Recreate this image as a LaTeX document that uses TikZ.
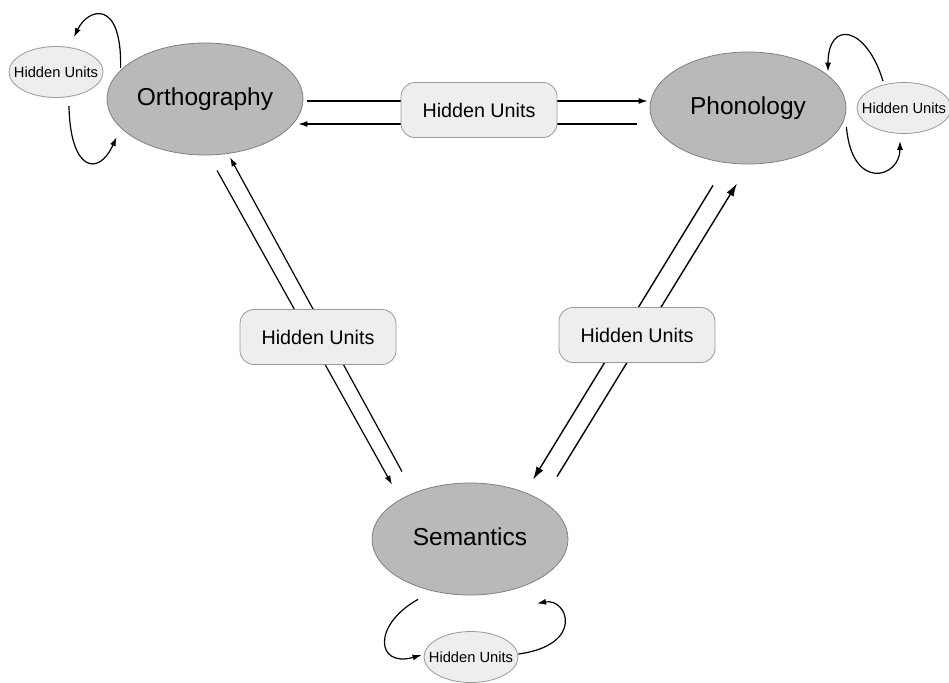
\documentclass[tikz,border=0pt]{standalone}
\usepackage{fontspec}
\setmainfont{Liberation Sans}
\usetikzlibrary{shapes.geometric,arrows.meta,backgrounds}
\tikzset{
  area/.style={ellipse,draw=gray,line width=0.8pt,fill=gray!55,minimum width=196pt,minimum height=112pt,inner sep=0pt,font=\fontsize{24.5}{26}\selectfont},
  hidden/.style={ellipse,draw=gray!80,line width=0.8pt,fill=gray!13,minimum width=94pt,minimum height=51pt,inner sep=0pt,font=\fontsize{14.7}{16}\selectfont},
  hbox/.style={draw=gray!80,line width=0.8pt,fill=gray!13,rounded corners=14pt,minimum width=156pt,minimum height=55pt,inner sep=0pt,font=\fontsize{19.7}{21}\selectfont},
  arr/.style={line width=1.2pt,-{Latex[length=9pt,width=6pt]}},
  bigarr/.style={line width=1.4pt,-{Latex[length=13pt,width=8pt]}}
}
\begin{document}
\begin{tikzpicture}[x=1pt,y=-1pt]
  \useasboundingbox (0,0) rectangle (949,682);
  \node[area] (orth) at (205,99) {Orthography};
  \node[area] (phon) at (748,108) {Phonology};
  \node[area] (sem) at (470,539) {\raisebox{5pt}{Semantics}};
  \node[hidden] (hl) at (56,72) {\makebox[0pt]{Hidden Units}};
  \node[hidden] (hr) at (904,108) {\makebox[0pt]{Hidden Units}};
  \node[hidden] (hb) at (471,657) {\makebox[0pt]{Hidden Units}};
  \node[hbox] (op) at (479,110) {Hidden Units};
  \node[hbox] (os) at (318,337) {Hidden Units};
  \node[hbox] (ps) at (637,335) {Hidden Units};
  \begin{scope}[on background layer]
    \draw[arr] ([shift={(4,2)}]orth.east) -- ([shift={(-2,-7)}]phon.west);
    \draw[arr] ([shift={(-13,16)}]phon.west) -- ([shift={(-5,25)}]orth.east);
    \draw[arr] ([shift={(12,15)}]orth.south) -- ([shift={(-78,2)}]sem.north);
    \draw[arr] ([shift={(-68,-11)}]sem.north) -- ([shift={(25,2)}]orth.south);
    \draw[bigarr] ([shift={(-35,21)}]phon.south) -- ([shift={(63,-3)}]sem.north);
    \draw[bigarr] ([shift={(87,-6)}]sem.north) -- ([shift={(-11,19)}]phon.south);
  \end{scope}
  \draw[arr] ([shift={(14,-31)}]orth.west) .. controls (122,-2) and (88,8) .. ([shift={(18,-9)}]hl.north);
  \draw[arr] ([shift={(13,8)}]hl.south) .. controls (70,170) and (98,178) .. ([shift={(10,38)}]orth.west);
  \draw[arr] ([shift={(-21,-1)}]hr.north) .. controls (866,25) and (828,20) .. ([shift={(80,20)}]phon.north);
  \draw[arr] ([shift={(0,19)}]phon.east) .. controls (852,192) and (900,178) .. ([shift={(-4,7)}]hr.south);
  \draw[arr] ([shift={(-52,4)}]sem.south) .. controls (372,625) and (376,668) .. ([shift={(-2,-2)}]hb.west);
  \draw[arr] ([shift={(0,-3)}]hb.east) .. controls (585,645) and (568,598) .. ([shift={(67,8)}]sem.south);
\end{tikzpicture}
\end{document}
